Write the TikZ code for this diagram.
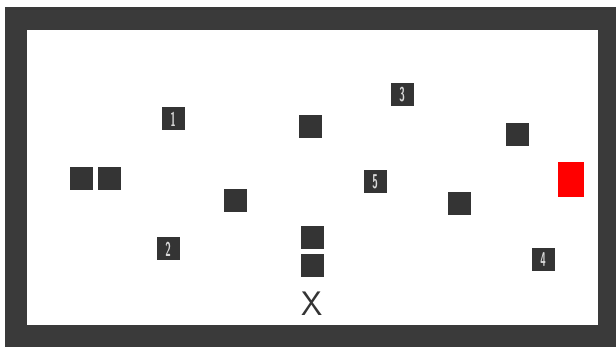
\documentclass[tikz,border=0pt]{standalone}
\usepackage{graphicx}
\usepackage{tikz}
\usetikzlibrary{positioning}
\definecolor{wallgray}{RGB}{58,58,58}
\definecolor{blockgray}{RGB}{52,52,52}
\definecolor{goalred}{RGB}{255,0,0}

\begin{document}
\begin{tikzpicture}[x=1pt, y=-1pt,
  block/.style={fill=blockgray, draw=none, minimum width=23pt, minimum height=23pt,
    inner sep=0pt},
  numblock/.style={block, text=white!85!black, font=\sffamily\bfseries\fontsize{20}{20}\selectfont},
  goal/.style={fill=goalred, draw=none, minimum width=26pt, minimum height=35pt,
    inner sep=0pt},
]
  \useasboundingbox (0,0) rectangle (616,347);
  \fill[white] (0,0) rectangle (616,347);
  % walls
  \fill[wallgray] (5,7) rectangle (616,347);
  \fill[white] (27,30) rectangle (598,325);

  % numbered blocks
  \node[numblock] (one) at (173,119) {\scalebox{0.5}[1]{1}};
  \node[numblock] (two) at (168,249) {\scalebox{0.5}[1]{2}};
  \node[numblock] (three) at (402,95) {\scalebox{0.5}[1]{3}};
  \node[numblock] (four) at (543,260) {\scalebox{0.5}[1]{4}};
  \node[numblock] (five) at (375,182) {\scalebox{0.5}[1]{5}};

  % plain blocks
  \node[block] (leftA) at (81,179) {};
  \node[block] (leftB) at (109,179) {};
  \node[block] (midleft) at (235,201) {};
  \node[block] (topmid) at (310,127) {};
  \node[block] (stackA) at (312,238) {};
  \node[block] (stackB) at (312,266) {};
  \node[block] (midright) at (459,204) {};
  \node[block] (topright) at (517,135) {};

  % goal and start
  \node[font=\sffamily\fontsize{34}{34}\selectfont, text=blockgray, inner sep=0pt]
    (start) at (312,304) {X};
  \node[goal] (target) at (571,179.5) {};
\end{tikzpicture}
\end{document}
